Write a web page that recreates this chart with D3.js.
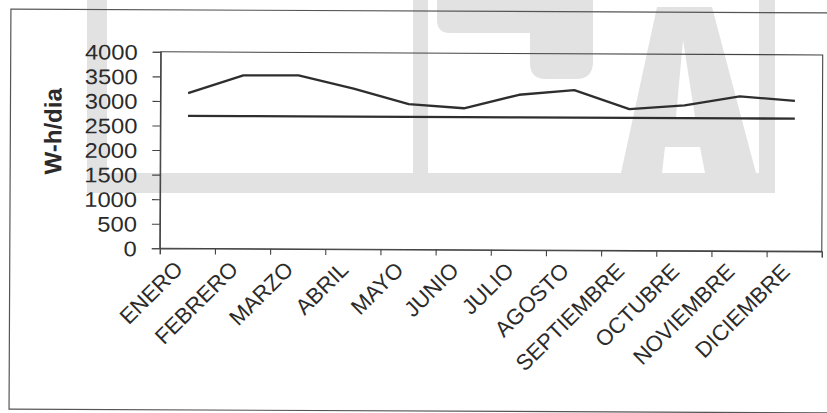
<!DOCTYPE html>
<html>
<head>
<meta charset="utf-8">
<script src="https://cdn.jsdelivr.net/npm/d3@7"></script>
<style>
  html, body { margin: 0; padding: 0; background: #ffffff; }
  svg { display: block; }
</style>
</head>
<body>
<svg id="chart" width="827" height="413"></svg>
<script>
// Monthly categories and the two daily-energy series (W-h per day)
const months = ["ENERO", "FEBRERO", "MARZO", "ABRIL", "MAYO", "JUNIO",
                "JULIO", "AGOSTO", "SEPTIEMBRE", "OCTUBRE", "NOVIEMBRE", "DICIEMBRE"];
const consumoDiario = [3160, 3530, 3535, 3270, 2960, 2880, 3160, 3260, 2880, 2960, 3150, 3060];
const nivelBase = [2700, 2700, 2700, 2700, 2700, 2700, 2700, 2700, 2700, 2700, 2700, 2700];
const yTicks = [0, 500, 1000, 1500, 2000, 2500, 3000, 3500, 4000];
const yTitle = "W-h/dia";

const svg = d3.select("#chart");
const ink = "#2b2b2b";
const font = "'Liberation Sans', Arial, sans-serif";
const stretch = 1.13;

// Light grey logo shapes sitting behind the chart
const logo = svg.append("g").attr("fill", "#e2e2e2");
logo.append("rect").attr("x", 87).attr("y", 0).attr("width", 20).attr("height", 193);
logo.append("rect").attr("x", 413).attr("y", 0).attr("width", 15).attr("height", 193);
logo.append("rect").attr("x", 759).attr("y", 0).attr("width", 16).attr("height", 193);
logo.append("rect").attr("x", 87).attr("y", 173).attr("width", 688).attr("height", 20);
logo.append("path")
  .attr("d", "M437,0 H593 V62 Q593,79 576,79 H546 Q530,79 530,63 V33 H450 Q437,33 437,20 Z");
logo.append("path")
  .attr("fill-rule", "evenodd")
  .attr("d", "M657,7 L712,7 L756,173 L705,173 L700,147 L665,147 L662,173 L621,173 Z M683,40 L695,117 L676,117 Z");

// Whole chart sits at a very slight clockwise tilt
const root = svg.append("g").attr("transform", "rotate(0.27, 413, 206)");

// Outer chart frame
root.append("rect")
  .attr("x", 10).attr("y", 11).attr("width", 840).attr("height", 400)
  .attr("fill", "none").attr("stroke", "#555").attr("stroke-width", 1.2);

const plot = { left: 160, right: 822, top: 53, bottom: 249.5 };

const x = d3.scaleBand().domain(months).range([plot.left, plot.right]).padding(0);
const xEdges = d3.scaleLinear().domain([0, months.length]).range([plot.left, plot.right]);
const y = d3.scaleLinear().domain([0, 4000]).range([plot.bottom, plot.top]);

// Plot area border
root.append("rect")
  .attr("x", plot.left).attr("y", plot.top)
  .attr("width", plot.right - plot.left).attr("height", plot.bottom - plot.top)
  .attr("fill", "none").attr("stroke", "#444").attr("stroke-width", 1.1);

// Y axis
const yAxis = root.append("g")
  .attr("transform", `translate(${plot.left},0)`)
  .call(d3.axisLeft(y).tickValues(yTicks).tickSize(8).tickFormat(d3.format("d")));
yAxis.select(".domain").attr("stroke", "#444").attr("stroke-width", 1.1);
yAxis.selectAll(".tick line").attr("stroke", "#444").attr("stroke-width", 1.1);
yAxis.selectAll(".tick text")
  .attr("x", 0).attr("dy", null)
  .attr("transform", `translate(-23,7.5) scale(${stretch},1)`)
  .attr("text-anchor", "end")
  .attr("fill", ink)
  .style("font-family", font).style("font-size", "21px");

// X axis boundary ticks
const xTicks = root.append("g")
  .attr("transform", `translate(0,${plot.bottom})`)
  .call(d3.axisBottom(xEdges).tickValues(d3.range(months.length + 1)).tickSize(6).tickFormat(""));
xTicks.select(".domain").attr("stroke", "#444").attr("stroke-width", 1.1);
xTicks.selectAll(".tick line").attr("stroke", "#444").attr("stroke-width", 1.1);

// X axis month labels, slanted at 45 degrees
const xAxis = root.append("g")
  .attr("transform", `translate(0,${plot.bottom})`)
  .call(d3.axisBottom(x).tickSize(0));
xAxis.select(".domain").remove();
xAxis.selectAll(".tick text")
  .attr("x", 0).attr("y", 0).attr("dy", null)
  .attr("transform", "translate(-3,22) rotate(-45)")
  .attr("text-anchor", "end")
  .attr("fill", ink)
  .style("font-family", font).style("font-size", "22px");

// Y axis title
root.append("text")
  .attr("transform", "translate(61,133) rotate(-90)")
  .attr("text-anchor", "middle")
  .attr("fill", ink)
  .style("font-family", font).style("font-size", "24px").style("font-weight", "bold")
  .text(yTitle);

// Series lines
const line = d3.line()
  .x((d, i) => x(months[i]) + x.bandwidth() / 2)
  .y(d => y(d));

[consumoDiario, nivelBase].forEach(series => {
  root.append("path")
    .datum(series)
    .attr("d", line)
    .attr("fill", "none")
    .attr("stroke", "#2e2e2e")
    .attr("stroke-width", 2.3)
    .attr("stroke-linejoin", "round");
});
</script>
</body>
</html>
